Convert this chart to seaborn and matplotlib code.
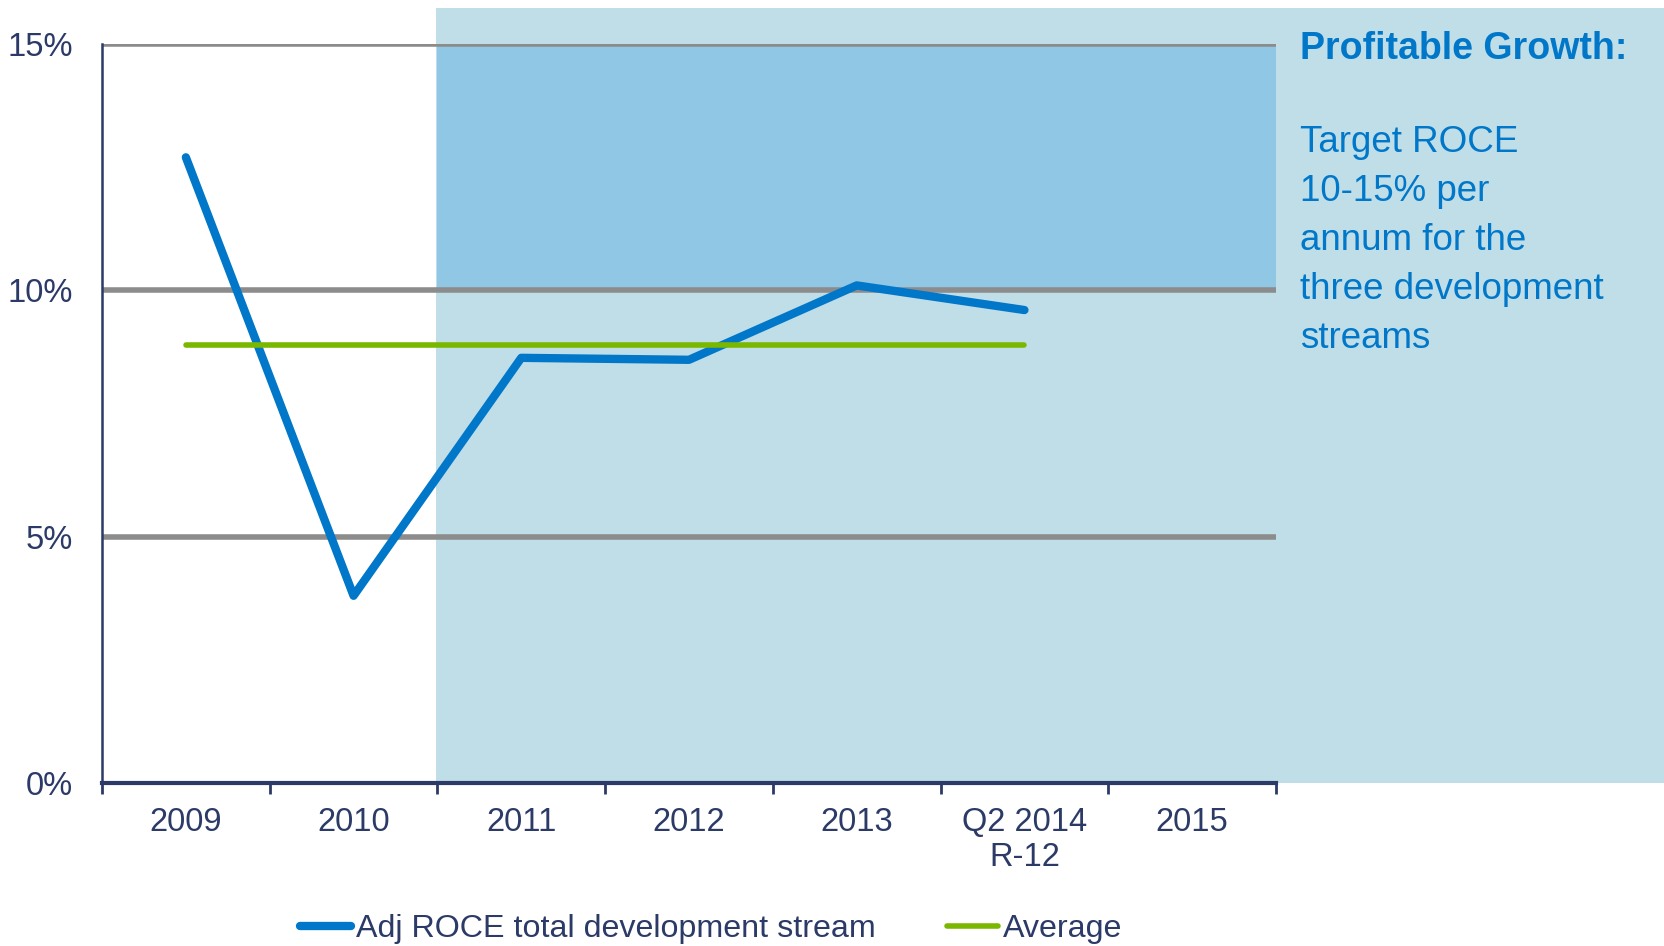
import matplotlib
matplotlib.use("Agg")
import matplotlib.pyplot as plt
from matplotlib.patches import Rectangle
from matplotlib.lines import Line2D
import seaborn as sns
import numpy as np
import pandas as pd

categories = ["2009", "2010", "2011", "2012", "2013", "Q2 2014\nR-12", "2015"]
roce_values = [12.7, 3.8, 8.63, 8.59, 10.1, 9.6]
average_values = [8.9, 8.9, 8.9, 8.9, 8.9, 8.9]
y_ticks = [0, 5, 10, 15]
y_tick_labels = ["0%", "5%", "10%", "15%"]
series_names = ["Adj ROCE total development stream", "Average"]
title_text = "Profitable Growth:"
body_lines = ["Target ROCE", "10-15% per", "annum for the", "three development", "streams"]

BLUE = "#0077C8"
GREEN = "#7AB800"
NAVY = "#2B3A67"
LIGHT = "#C0DEE8"
MID = "#8FC7E4"
GRID = "#8C8C8C"

sns.set_theme(style="white")
plt.rcParams["font.family"] = ["Liberation Sans", "DejaVu Sans"]

W, H = 1664, 946
fig = plt.figure(figsize=(W / 100, H / 100), dpi=100)
ax = fig.add_axes([102 / W, 1 - 783 / H, (1276 - 102) / W, (783 - 44) / H])
ax.set_facecolor("none")

fig.add_artist(Rectangle((436 / W, 1 - 783 / H), 1 - 436 / W, (783 - 8) / H,
                         transform=fig.transFigure, facecolor=LIGHT,
                         edgecolor="none", zorder=-5))

n = len(categories)
x_all = np.arange(n)
df = pd.DataFrame({
    "x": np.concatenate([x_all[:len(roce_values)], x_all[:len(average_values)]]),
    "value": roce_values + average_values,
    "series": [series_names[0]] * len(roce_values) + [series_names[1]] * len(average_values),
})

ax.set_xlim(-0.5, n - 0.5)
ax.set_ylim(0, 15)

ax.add_patch(Rectangle((1.5, 10), (n - 0.5) - 1.5, 5, facecolor=MID,
                       edgecolor="none", zorder=0))

for yv in [5, 10, 15]:
    ax.axhline(yv, color=GRID, lw=1.0, zorder=1)

sns.lineplot(data=df, x="x", y="value", hue="series",
             palette={series_names[0]: BLUE, series_names[1]: GREEN},
             ax=ax, legend=False, sort=False, zorder=3)
for ln in ax.get_lines():
    ln.set_solid_capstyle("round")
    if matplotlib.colors.to_hex(ln.get_color()).upper() == BLUE.upper():
        ln.set_linewidth(6)
    else:
        ln.set_linewidth(4)

ax.set_xlabel("")
ax.set_ylabel("")
ax.set_yticks(y_ticks)
ax.set_yticklabels(y_tick_labels)
ax.set_xticks(x_all)
ax.set_xticklabels(categories, linespacing=1.2)
ax.set_xticks(np.arange(-0.5, n, 1.0), minor=True)
ax.tick_params(axis="x", which="major", length=0, pad=17, labelsize=23.5, labelcolor=NAVY)
ax.tick_params(axis="x", which="minor", length=8, width=2, color=NAVY, direction="out", bottom=True)
ax.tick_params(axis="y", length=0, pad=21, labelsize=23.5, labelcolor=NAVY)

for s in ["top", "right"]:
    ax.spines[s].set_visible(False)
ax.spines["left"].set_color(NAVY)
ax.spines["left"].set_linewidth(1.8)
ax.spines["bottom"].set_color(NAVY)
ax.spines["bottom"].set_linewidth(3)
ax.spines["left"].set_zorder(4)
ax.spines["bottom"].set_zorder(4)

handles = [Line2D([0], [0], color=BLUE, lw=6, solid_capstyle="round"),
           Line2D([0], [0], color=GREEN, lw=4, solid_capstyle="round")]
leg = fig.legend(handles, series_names, loc="center", bbox_to_anchor=(711 / W, 1 - 929 / H),
                 ncol=2, frameon=False, fontsize=23.2, handlelength=1.6, handletextpad=0.15,
                 columnspacing=2.2)
for t in leg.get_texts():
    t.set_color(NAVY)

fig.text(1300 / W, 1 - 59 / H, title_text, color=BLUE, fontsize=27, fontweight="bold",
         va="baseline", ha="left")
for i, line in enumerate(body_lines):
    fig.text(1300 / W, 1 - (152 + 49 * i) / H, line, color=BLUE, fontsize=26.5,
             va="baseline", ha="left")

fig.savefig("out.png", dpi=100)
